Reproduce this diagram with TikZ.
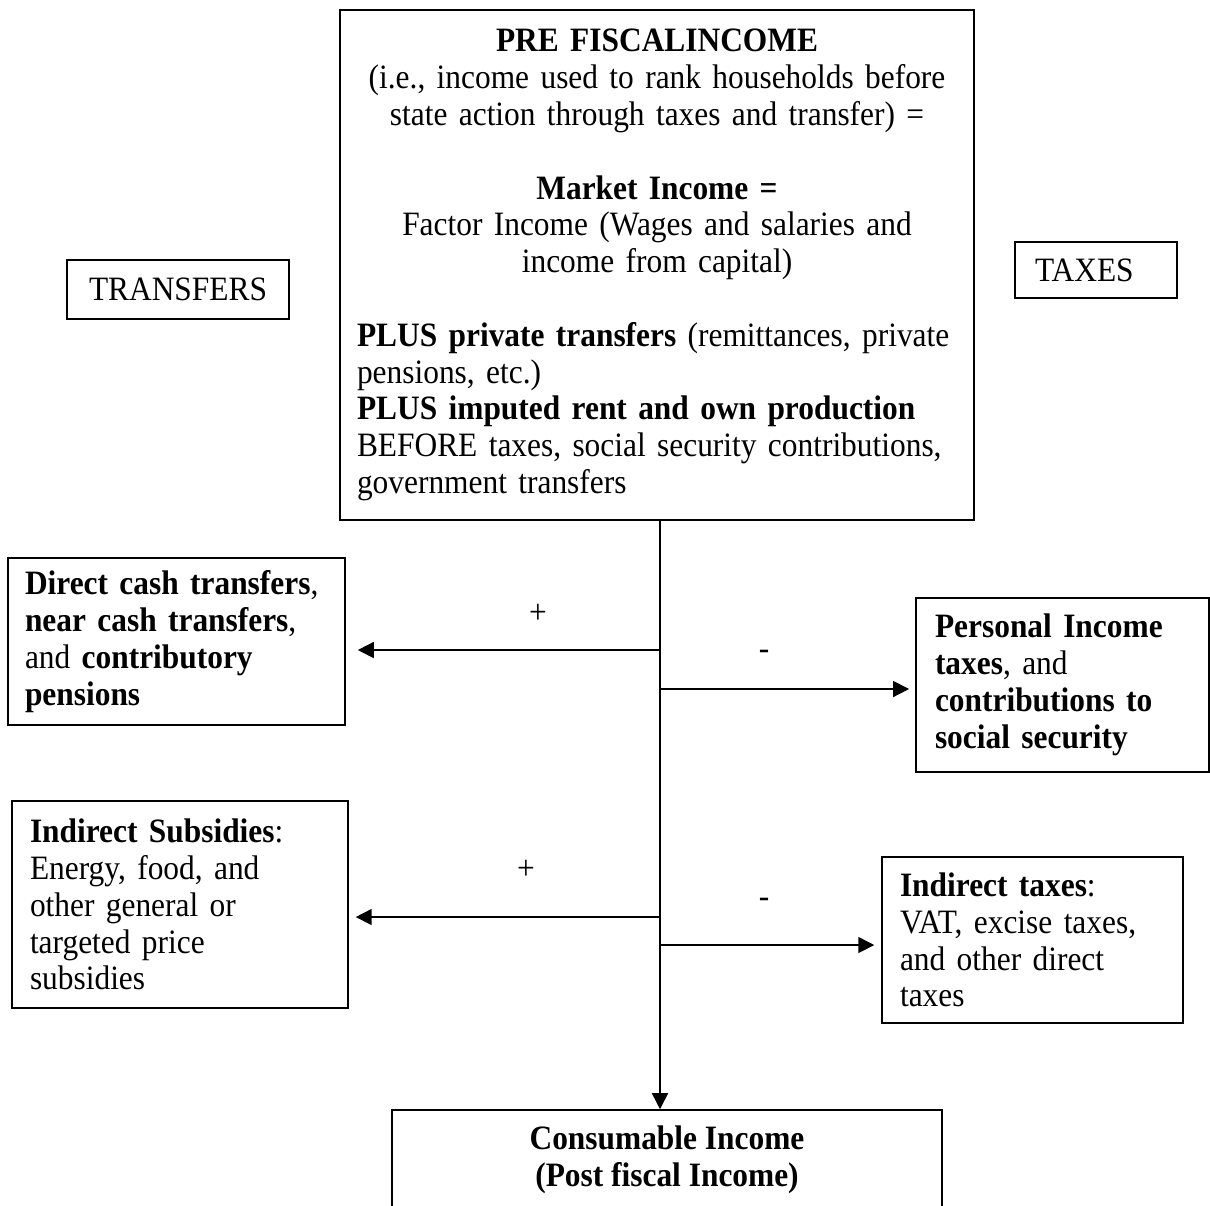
\documentclass[tikz,border=0pt]{standalone}
\usepackage{fontspec}
\setmainfont{Liberation Serif}[FakeStretch=0.92]
\usetikzlibrary{arrows.meta}

\begin{document}
\begin{tikzpicture}[
    box/.style={draw, line width=0.6pt, inner ysep=0pt, align=left, font=\fontsize{12.8}{13.8}\selectfont},
    sign/.style={inner sep=0pt, font=\fontsize{12.8}{13.8}\selectfont},
    arr/.style={-{Triangle[length=6pt, width=6pt]}, line width=0.6pt},
    x=0.375pt, y=-0.375pt
]
    \clip (0,0) rectangle (1210,1205);

    % top box: pre fiscal income, centered head and left-aligned tail
    \node[box, minimum width=237.75pt, minimum height=191.25pt, inner xsep=6.375pt, text width=225pt] (pre) at (657,265)
        {{\centering\textbf{PRE FISCALINCOME}\\
          (i.e., income used to rank households before\\
          state action through taxes and transfer) =\\[13.8pt]
          \textbf{Market Income =}\\
          Factor Income (Wages and salaries and\\
          income from capital)\par}
         \vspace{13.8pt}\noindent
         \textbf{PLUS private transfers} (remittances, private\\
         pensions, etc.)\\
         \textbf{PLUS imputed rent and own production}\\
         BEFORE taxes, social security contributions,\\
         government transfers};

    % side headings
    \node[box, align=center, minimum width=83.25pt, minimum height=22.125pt] (trf) at (178,289.5) {TRANSFERS};
    \node[box, minimum width=60.75pt, minimum height=21pt, inner xsep=7.5pt, text width=45.75pt] (tax) at (1096,270) {TAXES};

    % first level: cash transfers (left) and direct taxes (right)
    \node[box, minimum width=126.375pt, minimum height=62.625pt, inner xsep=6.375pt, text width=113.625pt] (dct) at (176.5,641.5)
        {\textbf{Direct cash transfers},\\ \textbf{near cash transfers},\\ and \textbf{contributory}\\ \textbf{pensions}};
    \node[box, minimum width=109.875pt, minimum height=65.25pt, inner xsep=7.125pt, text width=95.625pt] (pit) at (1062.5,685)
        {\textbf{Personal Income}\\ \textbf{taxes}, and\\ \textbf{contributions to}\\ \textbf{social security}};

    % second level: subsidies (left) and indirect taxes (right)
    \node[box, minimum width=126pt, minimum height=77.625pt, inner xsep=6.75pt, text width=112.5pt] (sub) at (180,904.5)
        {\textbf{Indirect Subsidies}:\\ Energy, food, and\\ other general or\\ targeted price\\ subsidies};
    \node[box, minimum width=112.875pt, minimum height=62.25pt, inner xsep=6.75pt, text width=99.375pt] (ind) at (1032.5,940)
        {\textbf{Indirect taxes}:\\ VAT, excise taxes,\\ and other direct\\ taxes};

    % result box, runs off the bottom edge
    \node[box, align=center, minimum width=206.25pt, minimum height=37.5pt] (cons) at (667,1160)
        {\textbf{Consumable Income}\\ \textbf{(Post fiscal Income)}};

    % spine and branch points
    \coordinate (spine) at (660,0);
    \coordinate (t1) at (660,650);
    \coordinate (x1) at (660,689);
    \coordinate (t2) at (660,917);
    \coordinate (x2) at (660,945);

    \draw[arr] (pre.south -| spine) -- (cons.north -| spine);
    \draw[arr, shorten >=4.5pt] (t1) -- (t1 -| dct.east);
    \draw[arr, shorten >=2.3pt] (x1) -- (x1 -| pit.west);
    \draw[arr, shorten >=2.6pt] (t2) -- (t2 -| sub.east);
    \draw[arr, shorten >=2.6pt] (x2) -- (x2 -| ind.west);

    % signs over the branches
    \node[sign] (p1) at (538,614) {+};
    \node[sign] (m1) at (764,655) {-};
    \node[sign] (p2) at (526,870) {+};
    \node[sign] (m2) at (764,903) {-};
\end{tikzpicture}
\end{document}
